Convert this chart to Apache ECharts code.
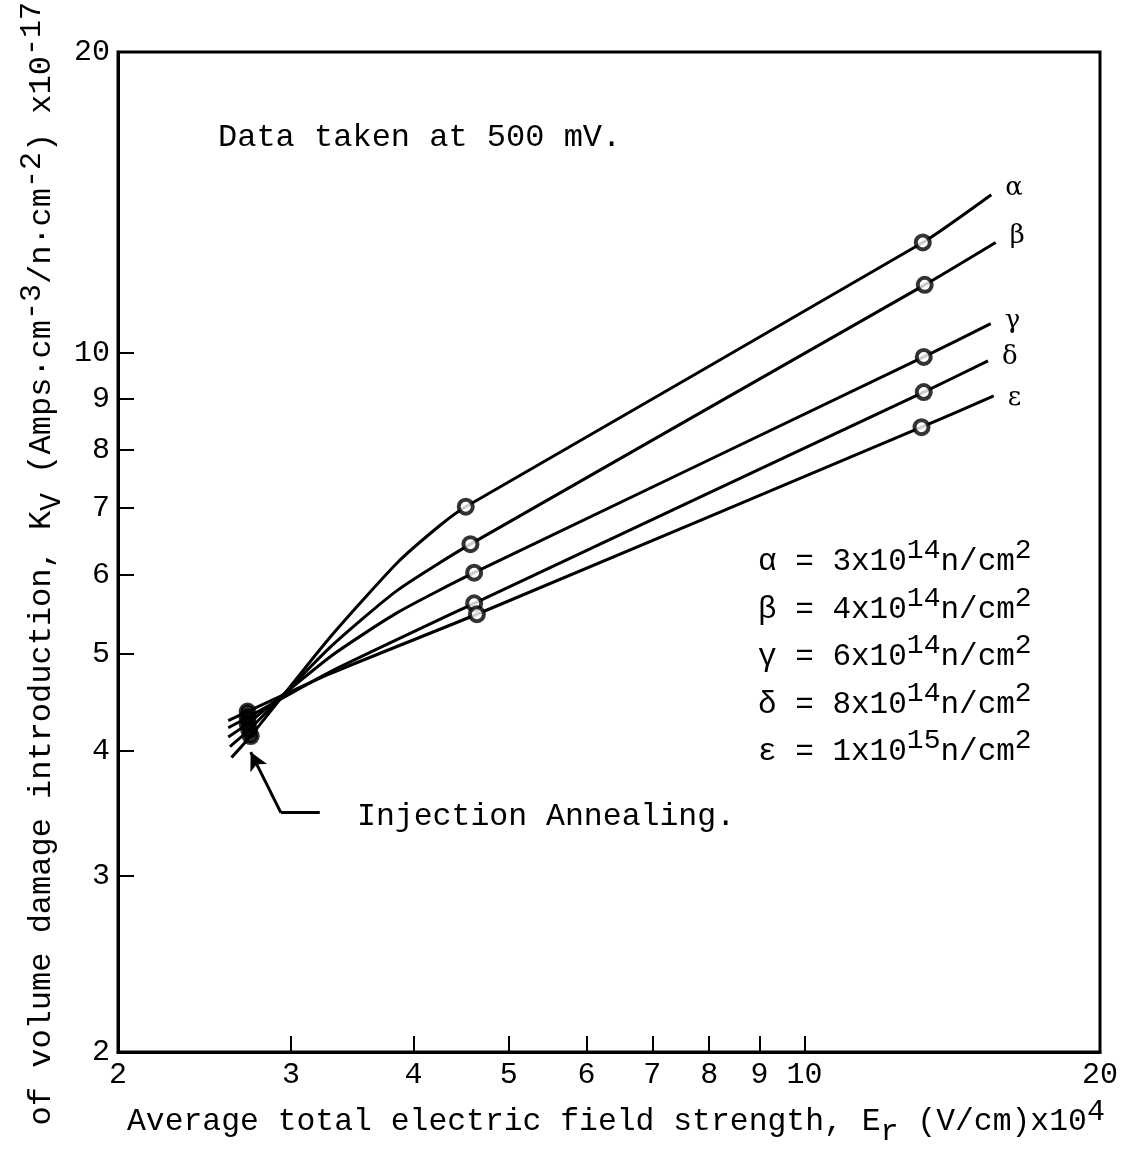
<!DOCTYPE html>
<html><head><meta charset="utf-8">
<script src="https://cdn.jsdelivr.net/npm/echarts@6/dist/echarts.min.js"></script>
<style>html,body{margin:0;padding:0;background:#fff}#c{width:1127px;height:1149px}</style>
</head><body><div id="c"></div>
<script>
// ---- data (E in 1e4 V/cm, Kv in chart units) ----
const seriesNames = ['α', 'β', 'γ', 'δ', 'ε'];
const fluenceMantissa = ['3', '4', '6', '8', '1'];
const fluenceExponent = ['14', '14', '14', '14', '15'];

// measured points (circles)
const alphaPtsE = [2.73, 4.52, 13.2];
const alphaPtsK = [4.14, 7.02, 12.9];
const betaPtsE = [2.72, 4.57, 13.26];
const betaPtsK = [4.20, 6.44, 11.7];
const gammaPtsE = [2.71, 4.61, 13.23];
const gammaPtsK = [4.26, 6.03, 9.91];
const deltaPtsE = [2.71, 4.61, 13.23];
const deltaPtsK = [4.32, 5.62, 9.14];
const epsilonPtsE = [2.71, 4.64, 13.16];
const epsilonPtsK = [4.38, 5.48, 8.43];

// drawn curves
const alphaCurveE = [2.61, 2.73, 3.29, 3.85, 4.26, 4.52, 13.2, 15.5];
const alphaCurveK = [3.94, 4.14, 5.20, 6.17, 6.73, 7.02, 12.9, 14.4];
const betaCurveE = [2.60, 2.72, 3.29, 3.85, 4.57, 13.26, 15.66];
const betaCurveK = [4.04, 4.20, 5.08, 5.79, 6.44, 11.7, 12.9];
const gammaCurveE = [2.59, 2.71, 3.29, 3.85, 4.61, 13.23, 15.48];
const gammaCurveK = [4.13, 4.26, 4.97, 5.50, 6.03, 9.91, 10.7];
const deltaCurveE = [2.59, 2.71, 3.29, 4.61, 13.23, 15.38];
const deltaCurveK = [4.22, 4.32, 4.80, 5.62, 9.14, 9.82];
const epsilonCurveE = [2.59, 2.71, 3.29, 4.64, 13.16, 15.59];
const epsilonCurveK = [4.29, 4.38, 4.78, 5.48, 8.43, 9.06];

// axis ticks
const xTickLabels = [2, 3, 4, 5, 6, 7, 8, 9, 10, 20];
const yTickLabels = [2, 3, 4, 5, 6, 7, 8, 9, 10, 20];
const innerTicks = [3, 4, 5, 6, 7, 8, 9, 10];

// annotation arrow (data coords)
const arrowE = [3.21, 2.93, 2.73];
const arrowK = [3.47, 3.47, 3.99];

// ---- build ----
const zip = (a, b) => a.map((v, i) => [v, b[i]]);
const curves = [
  zip(alphaCurveE, alphaCurveK), zip(betaCurveE, betaCurveK), zip(gammaCurveE, gammaCurveK),
  zip(deltaCurveE, deltaCurveK), zip(epsilonCurveE, epsilonCurveK)
];
const points = [
  zip(alphaPtsE, alphaPtsK), zip(betaPtsE, betaPtsK), zip(gammaPtsE, gammaPtsK),
  zip(deltaPtsE, deltaPtsK), zip(epsilonPtsE, epsilonPtsK)
];

const MONO = '"Liberation Mono", "DejaVu Sans Mono", monospace';
const labelOffsets = [[0, -6], [0, -6], [0, -2], [0, -4], [0, 2]];
const series = [];
seriesNames.forEach((n, i) => {
  series.push({
    type: 'line', name: n, data: curves[i], showSymbol: false, smooth: 0.2,
    lineStyle: { color: '#000', width: 3 }, silent: true, z: 2,
    endLabel: { show: true, formatter: n, color: '#000', fontSize: 26, fontFamily: '"DejaVu Serif", serif', distance: 14, offset: labelOffsets[i] }
  });
  series.push({
    type: 'scatter', name: n + '_pts', symbol: 'circle', symbolSize: 14,
    // the clustered low-field points overlap into a solid ink blob in the original
    data: points[i].map((p, j) => j === 0 ? { value: p, itemStyle: { color: '#000' } } : p),
    itemStyle: { color: '#fff', borderColor: '#000', borderWidth: 4 }, z: 3, silent: true
  });
});
series.push({
  type: 'line', name: 'annotation', data: [], silent: true,
  markLine: {
    silent: true, animation: false,
    label: { show: false },
    lineStyle: { type: 'solid', color: '#000', width: 3 },
    symbol: ['none', 'arrow'], symbolSize: [14, 18],
    data: [
      [{ coord: [arrowE[0], arrowK[0]], symbol: 'none' }, { coord: [arrowE[1], arrowK[1]], symbol: 'none' }],
      [{ coord: [arrowE[1], arrowK[1]], symbol: 'none' }, { coord: [arrowE[2], arrowK[2]], symbol: 'arrow' }]
    ]
  }
});

const makeRich = (main, size) => ({
  n: { fontSize: main, fontFamily: MONO, lineHeight: 50, verticalAlign: 'middle', fill: '#000' },
  sup: { fontSize: size, fontFamily: MONO, lineHeight: size, verticalAlign: 'top', fill: '#000' },
  sub: { fontSize: size, fontFamily: MONO, lineHeight: size, verticalAlign: 'bottom', fill: '#000' }
});
const plainStyle = (t, size) => ({ text: t, fill: '#000', font: size + 'px ' + MONO, align: 'left', verticalAlign: 'middle', textAlign: 'left', textVerticalAlign: 'middle' });

const graphics = [];
graphics.push({ type: 'text', x: 218, y: 138, style: plainStyle('Data taken at 500 mV.', 32) });
graphics.push({ type: 'text', x: 357, y: 817, style: plainStyle('Injection Annealing.', 31.5) });
seriesNames.forEach((n, i) => {
  graphics.push({
    type: 'text', x: 758, y: 562 + i * 47.5,
    style: {
      text: '{n|' + n + ' = ' + fluenceMantissa[i] + 'x10}{sup|' + fluenceExponent[i] + '}{n|n/cm}{sup|2}',
      rich: makeRich(31, 28), fill: '#000', align: 'left', verticalAlign: 'middle', textAlign: 'left', textVerticalAlign: 'middle'
    }
  });
});
// x axis title
graphics.push({
  type: 'text', x: 127, y: 1122,
  style: {
    text: '{n|Average total electric field strength, E}{sub|r}{n| (V/cm)x10}{sup|4}',
    rich: makeRich(31.4, 30), fill: '#000', align: 'left', verticalAlign: 'middle', textAlign: 'left', textVerticalAlign: 'middle'
  }
});
// y axis title (rotated, runs off the page like the reference)
graphics.push({
  type: 'text', x: 42, y: 1183, rotation: Math.PI / 2,
  style: {
    text: '{n|e) of volume damage introduction, K}{sub|V}{n| (Amps·cm}{sup|-3}{n|/n·cm}{sup|-2}{n|) x10}{sup|-17}',
    rich: makeRich(32, 30), fill: '#000', align: 'left', verticalAlign: 'middle', textAlign: 'left', textVerticalAlign: 'middle'
  }
});

const axisCommon = {
  type: 'log', logBase: 10, min: 2, max: 20,
  axisLine: { show: true, lineStyle: { color: '#000', width: 3 } },
  splitLine: { show: false }, minorTick: { show: false }, minorSplitLine: { show: false },
  axisTick: { show: true, inside: true, length: 16, lineStyle: { color: '#000', width: 2 }, customValues: innerTicks },
};

const chart = echarts.init(document.getElementById('c'), null, { renderer: 'canvas' });
chart.setOption({
  animation: false,
  backgroundColor: '#fff',
  grid: { left: 118, right: 27, top: 52, bottom: 97, show: true, borderColor: '#000', borderWidth: 3, containLabel: false },
  xAxis: Object.assign({}, axisCommon, {
    axisLabel: { customValues: xTickLabels, color: '#000', fontSize: 30, fontFamily: MONO, margin: 8 }
  }),
  yAxis: Object.assign({}, axisCommon, {
    axisLabel: { customValues: yTickLabels, color: '#000', fontSize: 30, fontFamily: MONO, margin: 8 }
  }),
  series: series,
  graphic: graphics
});
</script>
</body></html>
